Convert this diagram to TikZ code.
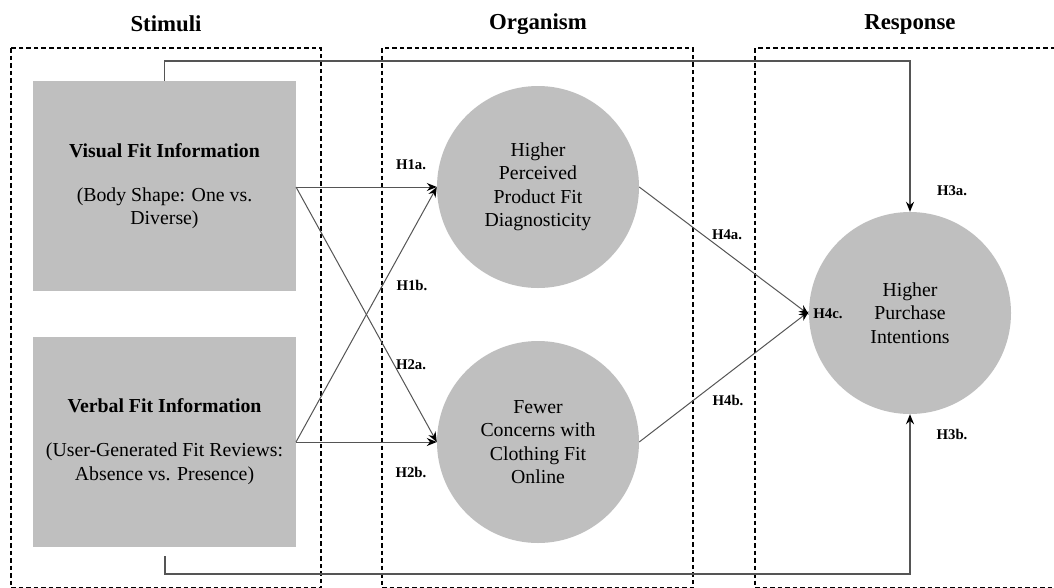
\documentclass[tikz,border=0pt]{standalone}
\usepackage{fontspec}
\setmainfont{Liberation Serif}
\usetikzlibrary{arrows.meta}
\definecolor{boxgray}{HTML}{BFBFBF}
\definecolor{linegray}{HTML}{555555}
\tikzset{
  zone/.style={draw=black, line width=1.3pt, dash pattern=on 4.5pt off 3pt},
  stimbox/.style={fill=boxgray, draw=none, minimum width=263pt, minimum height=210pt, inner sep=0pt, align=center, font=\fontsize{19.8}{23.5}\selectfont},
  orgcircle/.style={circle, fill=boxgray, draw=none, minimum size=202pt, inner sep=0pt, align=center, font=\fontsize{19.8}{23.5}\selectfont},
  title/.style={font=\bfseries\fontsize{22.8}{26}\selectfont},
  hlab/.style={font=\bfseries\fontsize{14.8}{17}\selectfont},
  conn/.style={draw=linegray, line width=1pt, -{Stealth[length=10pt,width=8pt,color=black,fill=black]}},
}
\begin{document}
\begin{tikzpicture}[x=1pt,y=-1pt]
\useasboundingbox (0,0) rectangle (1054,587);
\clip (0,0) rectangle (1054,587);
\fill[white] (0,0) rectangle (1054,587);
% zones
\draw[zone] (11,48) rectangle (321,588);
\draw[zone] (382,48) rectangle (693,588);
\draw[zone] (755,48) rectangle (1070,588);
% titles
\node[title] (t1) at (166,24) {Stimuli};
\node[title] (t2) at (538,24) {Organism};
\node[title] (t3) at (910,24) {Response};
% boxes
\node[stimbox] (vis) at (164.5,186) {\textbf{Visual Fit Information}\\[20.5pt](Body Shape: One vs.\\Diverse)};
\node[stimbox] (ver) at (164.5,441.5) {\textbf{Verbal Fit Information}\\[20.5pt](User-Generated Fit Reviews:\\Absence vs. Presence)};
% circles
\node[orgcircle] (c1) at (538,187) {Higher\\Perceived\\Product Fit\\Diagnosticity};
\node[orgcircle] (c2) at (538,442) {Fewer\\Concerns with\\Clothing Fit\\Online};
\node[orgcircle] (c3) at (910,313) {Higher\\Purchase\\Intentions};
% coordinates
\coordinate (vo) at (296,187);
\coordinate (vr) at (296,442);
\coordinate (bstart) at (165,556);
% connectors
\draw[conn] (vo) -- (c1.west);
\draw[conn] (vo) -- (c2.west);
\draw[conn] (vr) -- (c1.west);
\draw[conn] (vr) -- (c2.west);
\draw[conn] (c1.east) -- ([yshift=-1.5pt]c3.west);
\draw[conn] (c2.east) -- ([yshift=1.5pt]c3.west);
\draw[conn, line width=1.4pt] (vis.north) |- (538,61) -| (c3.north);
\draw[conn, line width=1.4pt] (bstart) -- (165,574) -| (c3.south);
% labels
\node[hlab] (h1a) at (411,165) {H1a.};
\node[hlab] (h1b) at (412,285) {H1b.};
\node[hlab] (h2a) at (411,365) {H2a.};
\node[hlab] (h2b) at (411,472) {H2b.};
\node[hlab] (h3a) at (952,191) {H3a.};
\node[hlab] (h3b) at (952,434) {H3b.};
\node[hlab] (h4a) at (727,235) {H4a.};
\node[hlab] (h4b) at (728,400) {H4b.};
\node[hlab] (h4c) at (828,314) {H4c.};
\end{tikzpicture}
\end{document}
